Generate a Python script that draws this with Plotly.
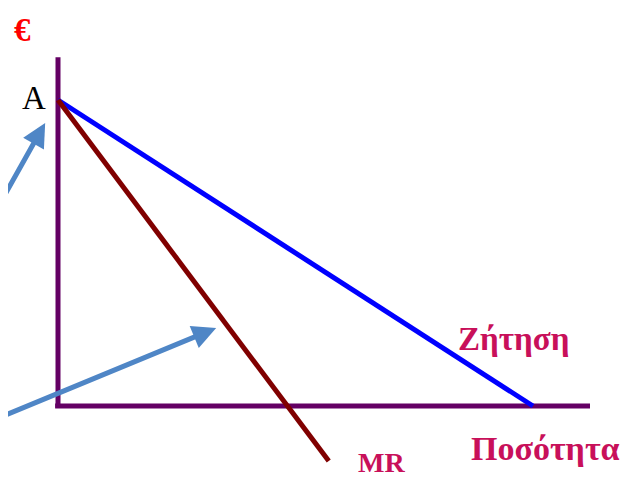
import plotly.graph_objects as go

# Economic data (quantity, price)
demand_q = [0, 10]
demand_p = [10, 0]
mr_q = [0, 5.7]
mr_p = [10, -1.8]
vaxis_q = [0, 0]
vaxis_p = [11.4, -0.06]
haxis_q = [-0.06, 11.2]
haxis_p = [0, 0]
# arrows: (tail_q, tail_p, tip_q, tip_p)
arrow1 = [-1.3, 6.4, -0.27, 9.25]
arrow2 = [-1.3, -0.42, 3.33, 2.55]

purple = "#640064"
fig = go.Figure()
fig.add_trace(go.Scatter(x=vaxis_q, y=vaxis_p, mode="lines",
                         line=dict(color=purple, width=5), hoverinfo="skip"))
fig.add_trace(go.Scatter(x=haxis_q, y=haxis_p, mode="lines",
                         line=dict(color=purple, width=5), hoverinfo="skip"))
fig.add_trace(go.Scatter(x=demand_q, y=demand_p, mode="lines",
                         line=dict(color="#0000FF", width=5), hoverinfo="skip"))
fig.add_trace(go.Scatter(x=mr_q, y=mr_p, mode="lines",
                         line=dict(color="#800000", width=5), hoverinfo="skip"))

for a in (arrow1, arrow2):
    fig.add_annotation(x=a[2], y=a[3], ax=a[0], ay=a[1], xref="x", yref="y",
                       axref="x", ayref="y", text="", showarrow=True,
                       arrowhead=2, arrowsize=0.95, arrowwidth=5,
                       arrowcolor="#4F86C6")

serif = "Liberation Serif"
mag = "#C8105A"
labels = [
    ("€", -0.75, 12.3, "red", 33, "bold"),
    ("A", -0.5, 10.05, "black", 33, "normal"),
    ("Ζήτηση", 9.58, 2.2, mag, 33, "bold"),
    ("Ποσότητα", 10.27, -1.4, mag, 34, "bold"),
    ("MR", 6.82, -1.86, mag, 28, "bold"),
]
for t, x, y, c, s, w in labels:
    fig.add_annotation(x=x, y=y, xref="x", yref="y", text=t, showarrow=False,
                       font=dict(family=serif, size=s, color=c, weight=w))

fig.update_layout(
    width=633, height=482, margin=dict(l=0, r=0, t=0, b=0),
    plot_bgcolor="white", paper_bgcolor="white", showlegend=False,
    xaxis=dict(range=[-50/47.5, 583/47.5], visible=False, fixedrange=True),
    yaxis=dict(range=[-84/30.6, 398/30.6], visible=False, fixedrange=True),
)
fig.write_html("out.html")
